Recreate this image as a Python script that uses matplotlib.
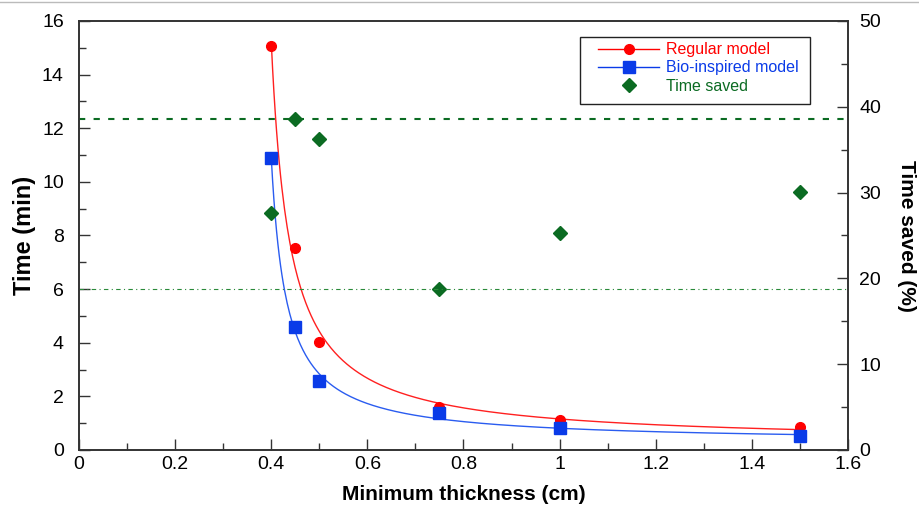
import numpy as np
import matplotlib
matplotlib.use("Agg")
from matplotlib import pyplot as plt
from matplotlib.ticker import MultipleLocator, FuncFormatter
from matplotlib.lines import Line2D
from matplotlib.patches import Rectangle

plt.rcParams['font.family'] = ['Liberation Sans', 'DejaVu Sans']

# data
thickness = [0.4, 0.45, 0.5, 0.75, 1.0, 1.5]
regular = [15.05, 7.55, 4.02, 1.62, 1.12, 0.86]
bio = [10.9, 4.57, 2.57, 1.38, 0.82, 0.52]
saved = [27.6, 38.6, 36.2, 18.75, 25.3, 30.1]

red = '#ff0000'
blue = '#0a3be8'
green = '#0b6b22'


def hyper_fit(x, y):
    # weighted least squares fit of y = a + b/(x - c), c by grid search
    x = np.asarray(x)
    y = np.asarray(y)
    w = 1.0 / np.sqrt(y)
    best = None
    for c in np.linspace(0.0, min(x) - 0.005, 400):
        A = np.column_stack([np.ones_like(x), 1.0 / (x - c)])
        coef, *_ = np.linalg.lstsq(A * w[:, None], y * w, rcond=None)
        err = np.sum(((A @ coef - y) * w) ** 2)
        if best is None or err < best[0]:
            best = (err, coef, c)
    _, (a, b), c = best
    xs = np.linspace(x.min(), x.max(), 400)
    return xs, a + b / (xs - c)


fig = plt.figure(figsize=(9.2, 5.08), dpi=100)
ax = fig.add_axes([0.0859, 0.1142, 0.8358, 0.8445])
ax2 = ax.twinx()

xs, ys = hyper_fit(thickness, regular)
ax.plot(xs, ys, color='#ff2020', lw=1.0)
xs, ys = hyper_fit(thickness, bio)
ax.plot(xs, ys, color='#2a5cf0', lw=1.0)
ax.plot(thickness, regular, 'o', color=red, ms=7)
ax.plot(thickness, bio, 's', color=blue, ms=8.5)

ax2.plot(thickness, saved, 'D', color=green, ms=7.5, mec=green)
ax2.axhline(max(saved), color=green, lw=1.5, ls=(0, (3, 4)))
ax2.axhline(min(saved), color='#2a8a3a', lw=0.8, ls=(0, (4, 3, 1, 3)))

ax.set_xlim(0, 1.6)
ax.set_ylim(0, 16)
ax2.set_ylim(0, 50)

ax.xaxis.set_major_locator(MultipleLocator(0.2))
ax.xaxis.set_minor_locator(MultipleLocator(0.1))
ax.yaxis.set_major_locator(MultipleLocator(2))
ax.yaxis.set_minor_locator(MultipleLocator(1))
ax2.yaxis.set_major_locator(MultipleLocator(10))
ax2.yaxis.set_minor_locator(MultipleLocator(5))
ax.xaxis.set_major_formatter(FuncFormatter(lambda v, p: '0' if abs(v) < 1e-9 else f'{v:g}'))

ax.tick_params(axis='x', which='both', direction='in', top=False, labelsize=14, pad=4)
ax.tick_params(axis='y', which='both', direction='in', right=False, labelsize=14, pad=11)
ax2.tick_params(axis='y', which='both', direction='in', labelsize=14, pad=8)
for a in (ax, ax2):
    a.tick_params(which='major', length=8, width=1, color='#333333')
    a.tick_params(which='minor', length=5, width=1, color='#333333')
    for s in a.spines.values():
        s.set_color('#333333')
        s.set_linewidth(1.2)

ax.set_xlabel('Minimum thickness (cm)', fontsize=15, fontweight='bold', labelpad=9)
ax.set_ylabel('Time (min)', fontsize=17, fontweight='bold', labelpad=4)
ax2.set_ylabel('Time saved (%)', fontsize=15, fontweight='bold', rotation=270, labelpad=25)

handles = [
    Line2D([], [], color=red, marker='o', ms=7, lw=1.0),
    Line2D([], [], color=blue, marker='s', ms=8.5, lw=1.0),
    Line2D([], [], color=green, marker='D', ms=7.5, lw=0),
]
labels = ['Regular model', 'Bio-inspired model', 'Time saved']
leg = ax2.legend(handles, labels, loc='upper left', bbox_to_anchor=(587 / 920, 1 - 31 / 508),
                 bbox_transform=fig.transFigure, fontsize=11.5, frameon=False,
                 handlelength=3.8, handletextpad=0.45, borderpad=0.2, labelspacing=0.2)
for t, c in zip(leg.get_texts(), [red, blue, green]):
    t.set_color(c)
fig.add_artist(Rectangle((580 / 920, 1 - 104 / 508), 230 / 920, 67 / 508,
                         transform=fig.transFigure, fill=False, ec='#222222', lw=1.0))

fig.add_artist(Line2D([0, 1], [0.996, 0.996], color='#bbbbbb', lw=1.0, transform=fig.transFigure))

fig.savefig('out.png', dpi=100)
